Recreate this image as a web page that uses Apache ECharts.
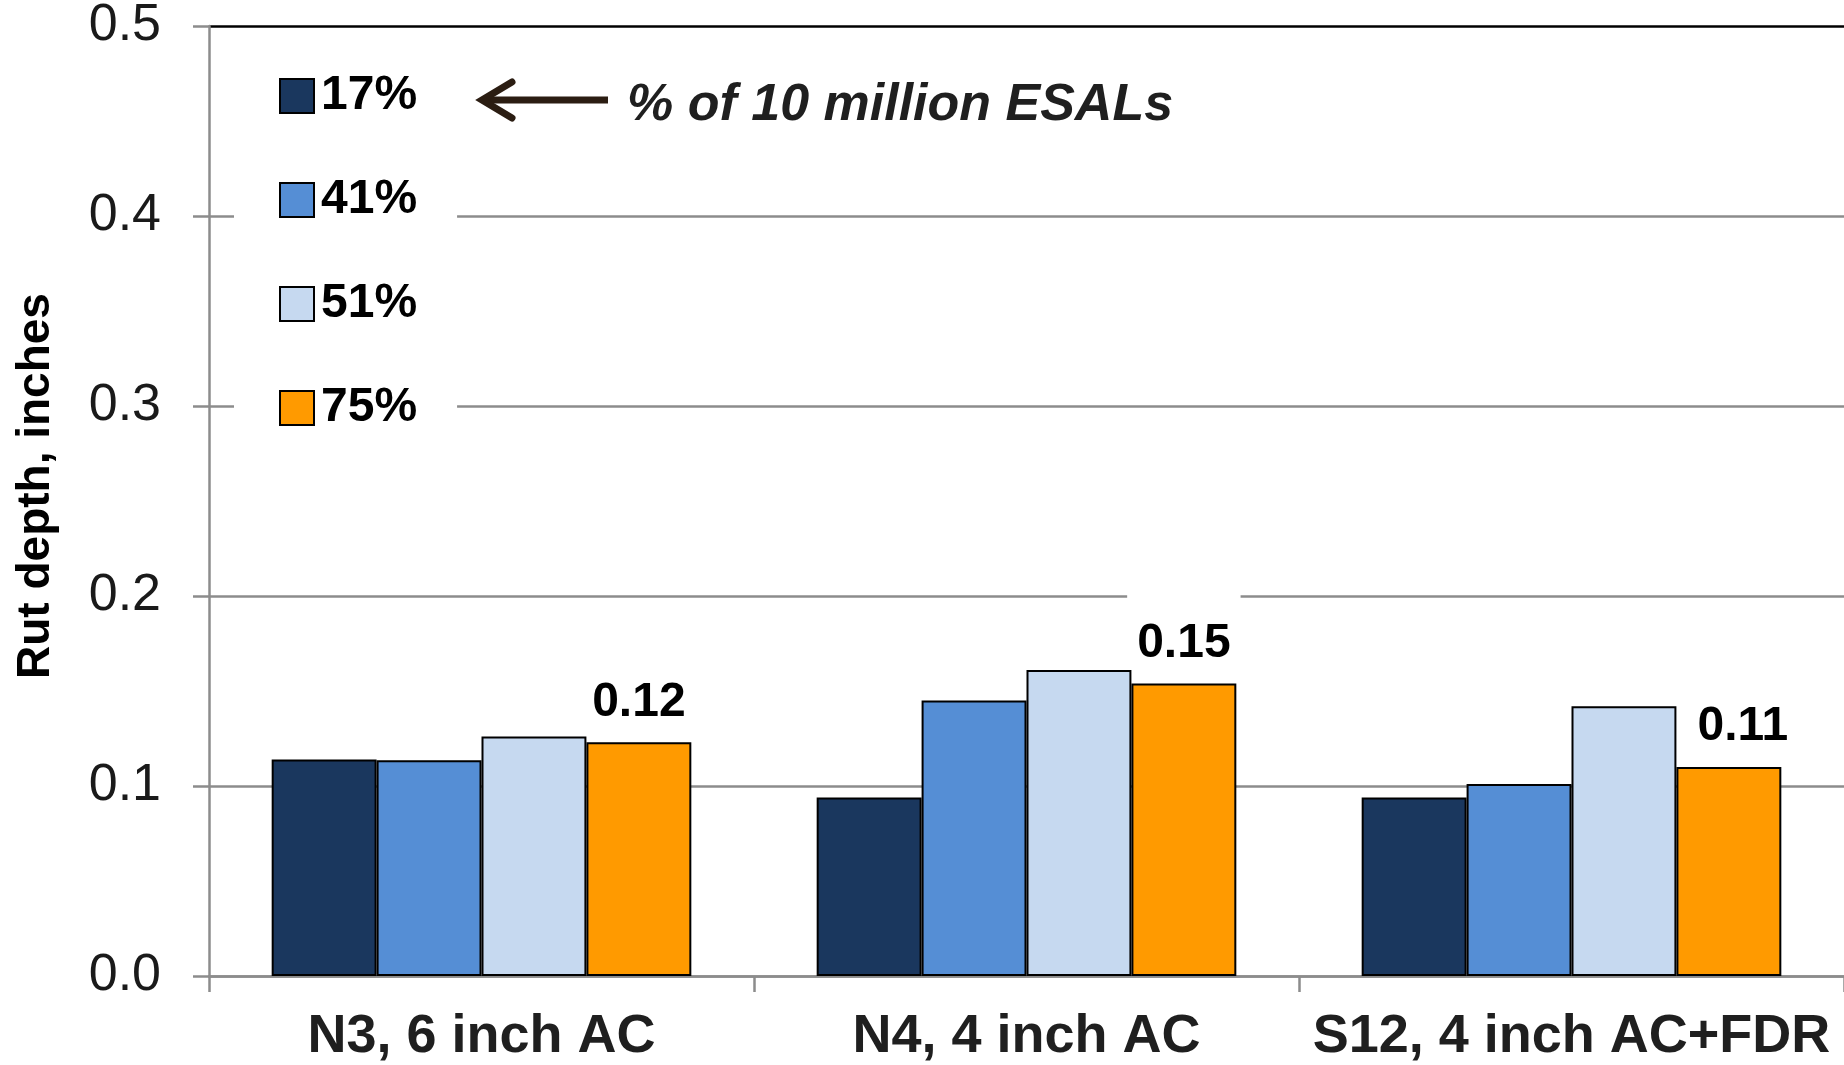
<!DOCTYPE html>
<html>
<head>
<meta charset="utf-8">
<script src="https://cdn.jsdelivr.net/npm/echarts@6/dist/echarts.min.js"></script>
<style>
  html, body { margin: 0; padding: 0; background: #fff; }
  #chart { width: 1844px; height: 1065px; }
</style>
</head>
<body>
<div id="chart"></div>
<script>
// Test sections
const categories = ['N3, 6 inch AC', 'N4, 4 inch AC', 'S12, 4 inch AC+FDR'];

// Rut depth (inches) at each share of 10 million ESALs
const seriesNames = ['17%', '41%', '51%', '75%'];
const rut17 = [0.114, 0.094, 0.094];
const rut41 = [0.1135, 0.145, 0.101];
const rut51 = [0.126, 0.161, 0.142];
const rut75 = [0.123, 0.154, 0.110];

const yTicks = [0, 0.1, 0.2, 0.3, 0.4, 0.5];

const colors = ['#1a375e', '#558ed5', '#c6d9f0', '#ff9a00'];
const FONT = "'Liberation Sans', Arial, sans-serif";
const GRID_GRAY = '#8c8c8c';

const chart = echarts.init(document.getElementById('chart'), null, { renderer: 'canvas' });

const values = [rut17, rut41, rut51, rut75];

// value labels sit on the last series; the one over the rightmost group is nudged right
const labelStyle = {
  show: true,
  position: 'top',
  distance: 14,
  formatter: p => p.value.toFixed(2),
  fontFamily: FONT,
  fontSize: 48,
  fontWeight: 'bold',
  color: '#000',
  backgroundColor: '#fff',
  padding: [26, 10, 2, 10]
};

const series = seriesNames.map((name, i) => ({
  name: name,
  type: 'bar',
  data: i === 3
    ? values[i].map((v, k) => k === 2 ? { value: v, label: { offset: [14, 0] } } : v)
    : values[i],
  barGap: '0%',
  barCategoryGap: '23%',
  itemStyle: { color: colors[i], borderColor: '#000', borderWidth: 2 },
  label: i === 3 ? labelStyle : { show: false }
}));

chart.setOption({
  animation: false,
  backgroundColor: '#fff',
  grid: { left: 209, right: 0, top: 26, bottom: 89, containLabel: false, outerBoundsMode: 'none' },
  legend: {
    orient: 'vertical',
    left: 234,
    top: 30,
    data: seriesNames,
    icon: 'rect',
    itemWidth: 34,
    itemHeight: 34,
    itemGap: 56,
    padding: [42, 40, 50, 45],
    backgroundColor: '#fff',
    itemStyle: { borderColor: '#000', borderWidth: 2 },
    textStyle: {
      fontFamily: FONT,
      fontSize: 48,
      fontWeight: 'bold',
      color: '#000',
      padding: [0, 0, 0, 2]
    }
  },
  xAxis: {
    type: 'category',
    data: categories,
    axisLine: { lineStyle: { color: GRID_GRAY, width: 2.5 } },
    axisTick: { show: true, length: 16, lineStyle: { color: GRID_GRAY, width: 2.5 } },
    axisLabel: {
      interval: 0,
      hideOverlap: false,
      fontFamily: FONT,
      fontSize: 54,
      fontWeight: 'bold',
      color: '#1f1f1f',
      margin: 34
    }
  },
  yAxis: {
    type: 'value',
    min: yTicks[0],
    max: yTicks[yTicks.length - 1],
    interval: 0.1,
    name: 'Rut depth, inches',
    nameLocation: 'middle',
    nameRotate: 90,
    nameGap: 150,
    nameTextStyle: {
      fontFamily: FONT,
      fontSize: 46,
      fontWeight: 'bold',
      color: '#000',
      padding: [0, 0, 0, 30]
    },
    axisLine: { show: true, lineStyle: { color: GRID_GRAY, width: 2.5 } },
    axisTick: { show: true, length: 16, lineStyle: { color: GRID_GRAY, width: 2.5 } },
    axisLabel: {
      fontFamily: FONT,
      fontSize: 52,
      color: '#1a1a1a',
      margin: 48,
      formatter: v => v.toFixed(1)
    },
    splitLine: {
      show: true,
      lineStyle: {
        color: yTicks.map((t, i) => i === yTicks.length - 1 ? '#000' : GRID_GRAY),
        width: 2.5
      }
    }
  },
  graphic: [
    {
      type: 'line',
      shape: { x1: 608, y1: 100, x2: 484, y2: 100 },
      style: { stroke: '#2b1d12', lineWidth: 7 },
      z: 10
    },
    {
      type: 'polyline',
      shape: { points: [[512, 82], [482, 100], [512, 118]] },
      style: { stroke: '#2b1d12', lineWidth: 7, fill: null, lineCap: 'round', lineJoin: 'miter' },
      z: 10
    },
    {
      type: 'text',
      left: 627,
      top: 80,
      style: {
        text: '% of 10 million ESALs',
        font: "italic bold 52px " + FONT,
        fill: '#1f1f1f'
      },
      z: 10
    }
  ],
  series: series
});
</script>
</body>
</html>
